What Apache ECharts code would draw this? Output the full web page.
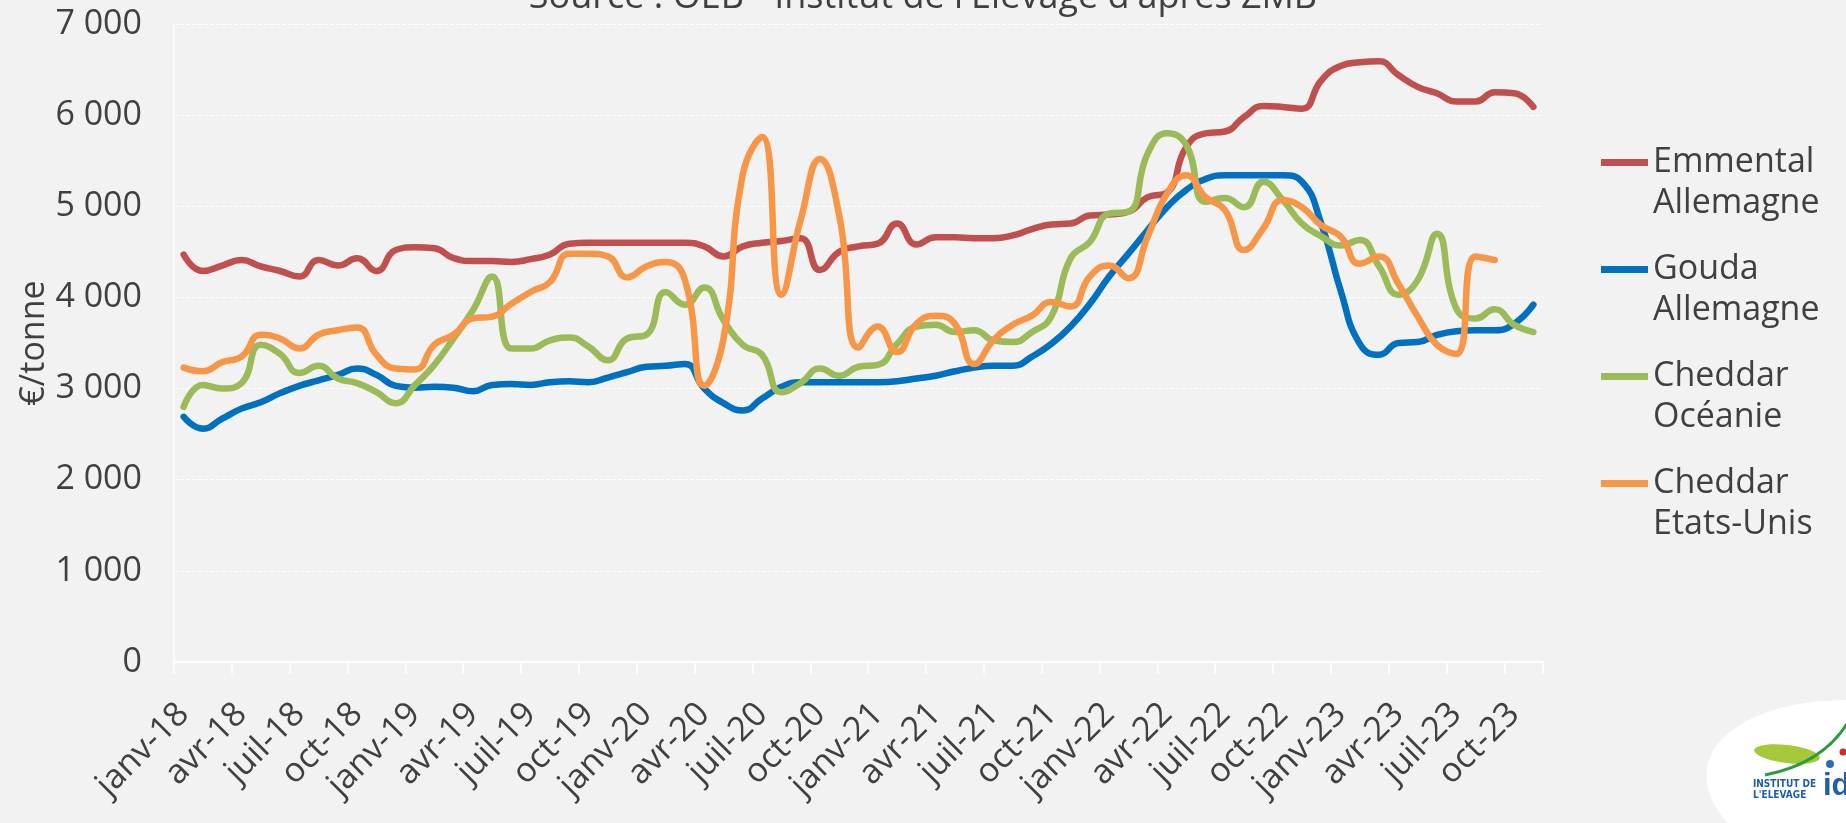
<!DOCTYPE html>
<html lang="fr">
<head>
<meta charset="utf-8">
<title>Prix des fromages</title>
<script src="https://cdn.jsdelivr.net/npm/echarts@6/dist/echarts.min.js"></script>
<style>
  html, body { margin: 0; padding: 0; background: #f2f2f2; }
  #chart { width: 1846px; height: 823px; }
</style>
</head>
<body>
<div id="chart"></div>
<script>
// Monthly categories, janv-18 .. nov-23
const monthNames = ['janv', 'févr', 'mars', 'avr', 'mai', 'juin', 'juil', 'août', 'sept', 'oct', 'nov', 'déc'];
const categories = [];
for (let y = 18; y <= 23; y++) {
  for (let m = 0; m < 12; m++) {
    if (y === 23 && m > 10) break;
    categories.push(monthNames[m] + '-' + y);
  }
}

// Prices in €/tonne
const emmentalAllemagne = [
  4470, 4290, 4350, 4410, 4340, 4290, 4230, 4410, 4350, 4430, 4290, 4520,
  4550, 4540, 4430, 4400, 4400, 4390, 4420, 4470, 4590, 4600, 4600, 4600,
  4600, 4600, 4600, 4560, 4450, 4560, 4600, 4620, 4650, 4300, 4500, 4560,
  4590, 4810, 4580, 4660, 4660, 4650, 4650, 4680, 4750, 4800, 4810, 4900,
  4910, 4940, 5100, 5150, 5650, 5800, 5820, 5980, 6100, 6090, 6070, 6380,
  6540, 6580, 6590, 6440, 6310, 6240, 6150, 6150, 6250, 6240, 6090
];
const goudaAllemagne = [
  2690, 2560, 2670, 2780, 2850, 2950, 3030, 3090, 3150, 3220, 3150, 3030,
  3010, 3020, 3010, 2970, 3040, 3050, 3040, 3070, 3080, 3070, 3120, 3180,
  3240, 3250, 3270, 3000, 2840, 2760, 2890, 3020, 3070, 3070, 3070, 3070,
  3070, 3080, 3110, 3140, 3190, 3230, 3250, 3250, 3350, 3490, 3680, 3930,
  4230, 4480, 4740, 4990, 5180, 5300, 5340, 5340, 5340, 5340, 5270, 4810,
  4080, 3490, 3370, 3500, 3510, 3590, 3630, 3640, 3640, 3710, 3920
];
const cheddarOceanie = [
  2800, 3040, 3000, 3060, 3480, 3380, 3170, 3250, 3110, 3060, 2960, 2840,
  3040, 3260, 3550, 3860, 4230, 3440, 3440, 3530, 3560, 3460, 3310, 3550,
  3590, 4060, 3920, 4110, 3750, 3480, 3370, 2960, 3060, 3220, 3140, 3240,
  3260, 3490, 3680, 3700, 3620, 3640, 3530, 3510, 3620, 3790, 4430, 4610,
  4920, 4940, 5580, 5800, 5670, 5050, 5090, 4990, 5270, 5070, 4810, 4670,
  4570, 4630, 4340, 4030, 4190, 4700, 3880, 3770, 3870, 3700, 3620
];
const cheddarEtatsUnis = [
  3230, 3190, 3290, 3350, 3590, 3550, 3440, 3590, 3640, 3670, 3370, 3220,
  3210, 3480, 3590, 3770, 3790, 3930, 4060, 4170, 4480, 4480, 4450, 4220,
  4340, 4390, 4190, 3030, 3550, 5350, 5760, 4030, 4850, 5520, 4900, 3450,
  3680, 3400, 3710, 3800, 3710, 3270, 3530, 3700, 3800, 3950, 3900, 4230,
  4350, 4210, 4670, 5140, 5340, 5100, 4960, 4520, 4760, 5070, 4990, 4790,
  4670, 4370, 4450, 4150, 3790, 3480, 3380, 4450, 4410, null, null
];

const seriesNames = ['Emmental\nAllemagne', 'Gouda\nAllemagne', 'Cheddar\nOcéanie', 'Cheddar\nEtats-Unis'];
const seriesData = [emmentalAllemagne, goudaAllemagne, cheddarOceanie, cheddarEtatsUnis];
const seriesColors = ['#c0504d', '#0070c0', '#9bbb59', '#f79646'];

const FONT = '"Open Sans", "Liberation Sans", sans-serif';
const TEXT = '#404040';
const LEGEND_LINE = 41;
// Legend key: a short bar at the top of a taller box (a tiny speck marks the
// box bottom) so the bar lines up with the first line of each two-line name.
const LEGEND_ICON = 'path://M0,0 L47,0 L47,7 L0,7 Z M0,47.99 L0.01,48 L0,48 Z';

const chart = echarts.init(document.getElementById('chart'), null, { renderer: 'canvas' });

const option = {
  backgroundColor: '#f2f2f2',
  animation: false,
  title: {
    text: "Source : OEB - Institut de l'Elevage d'après ZMB",
    left: 'center',
    top: -25,
    textStyle: { fontFamily: FONT, fontSize: 36, fontWeight: 'normal', color: TEXT }
  },
  legend: {
    orient: 'vertical',
    left: 1601,
    top: 142,
    padding: 0,
    itemWidth: 47,
    itemHeight: 48,
    itemGap: 25,
    icon: LEGEND_ICON,
    textStyle: {
      fontFamily: FONT, fontSize: 34, color: TEXT, lineHeight: LEGEND_LINE
    },
    data: seriesNames
  },
  grid: { left: 174, right: 303, top: 24, bottom: 161 },
  xAxis: {
    type: 'category',
    data: categories,
    boundaryGap: true,
    axisLine: { lineStyle: { color: '#ffffff', width: 2 } },
    axisTick: { show: true, interval: 2, length: 12, lineStyle: { color: '#ffffff', width: 1.5 } },
    axisLabel: {
      interval: 2, rotate: 45, margin: 47,
      fontFamily: FONT, fontSize: 34, color: TEXT
    },
    splitLine: { show: false }
  },
  yAxis: {
    type: 'value',
    min: 0, max: 7000, interval: 1000,
    name: '€/tonne',
    nameLocation: 'middle',
    nameGap: 123,
    nameMoveOverlap: false,
    nameTextStyle: { fontFamily: FONT, fontSize: 34, color: TEXT },
    axisLine: { show: true, lineStyle: { color: '#ffffff', width: 1.5 } },
    axisTick: { show: false },
    axisLabel: {
      margin: 32,
      fontFamily: FONT, fontSize: 34, color: TEXT,
      formatter: v => String(v).replace(/\B(?=(\d{3})+(?!\d))/g, ' ')
    },
    splitLine: { lineStyle: { color: '#ffffff', width: 1, type: [4, 2] } }
  },
  series: seriesNames.map((name, i) => ({
    name,
    type: 'line',
    data: seriesData[i],
    smooth: 0.5,
    symbol: 'none',
    color: seriesColors[i],
    lineStyle: { width: 6.5, color: seriesColors[i], cap: 'round', join: 'round' }
  })),
  graphic: [
    // Institute logo, bottom-right corner
    {
      type: 'ellipse', shape: { cx: 0, cy: 0, rx: 175, ry: 92 },
      x: 1880, y: 795, rotation: -0.15,
      style: { fill: '#ffffff' }, z: 10
    },
    {
      type: 'ellipse', shape: { cx: 0, cy: 0, rx: 33, ry: 9 },
      x: 1787, y: 754, rotation: -0.12,
      style: { fill: '#a6c93a' }, z: 11
    },
    {
      type: 'bezierCurve', z: 11,
      shape: { x1: 1765, y1: 775, cpx1: 1800, cpy1: 768, cpx2: 1830, cpy2: 752, x2: 1848, y2: 722 },
      style: { fill: null, stroke: '#2e9a3c', lineWidth: 3 }
    },
    {
      type: 'circle', shape: { cx: 1830, cy: 764, r: 4 },
      style: { fill: '#2b6cb3' }, z: 11
    },
    {
      type: 'circle', shape: { cx: 1843, cy: 752, r: 3.5 },
      style: { fill: '#d8262e' }, z: 11
    },
    {
      type: 'text', z: 12, x: 1753, y: 779,
      style: { text: 'INSTITUT DE\nL\'ELEVAGE', fontFamily: '"Liberation Sans Narrow", "DejaVu Sans Condensed", sans-serif',
               fontSize: 10, fontWeight: 'bold', lineHeight: 11, fill: '#1f5ea8' }
    },
    {
      type: 'text', z: 12, x: 1823, y: 771,
      style: { text: 'idele', fontFamily: '"Liberation Sans", sans-serif',
               fontSize: 31, fontWeight: 'bold', fill: '#1f5ea8' }
    }
  ]
};

chart.setOption(option);
</script>
</body>
</html>
